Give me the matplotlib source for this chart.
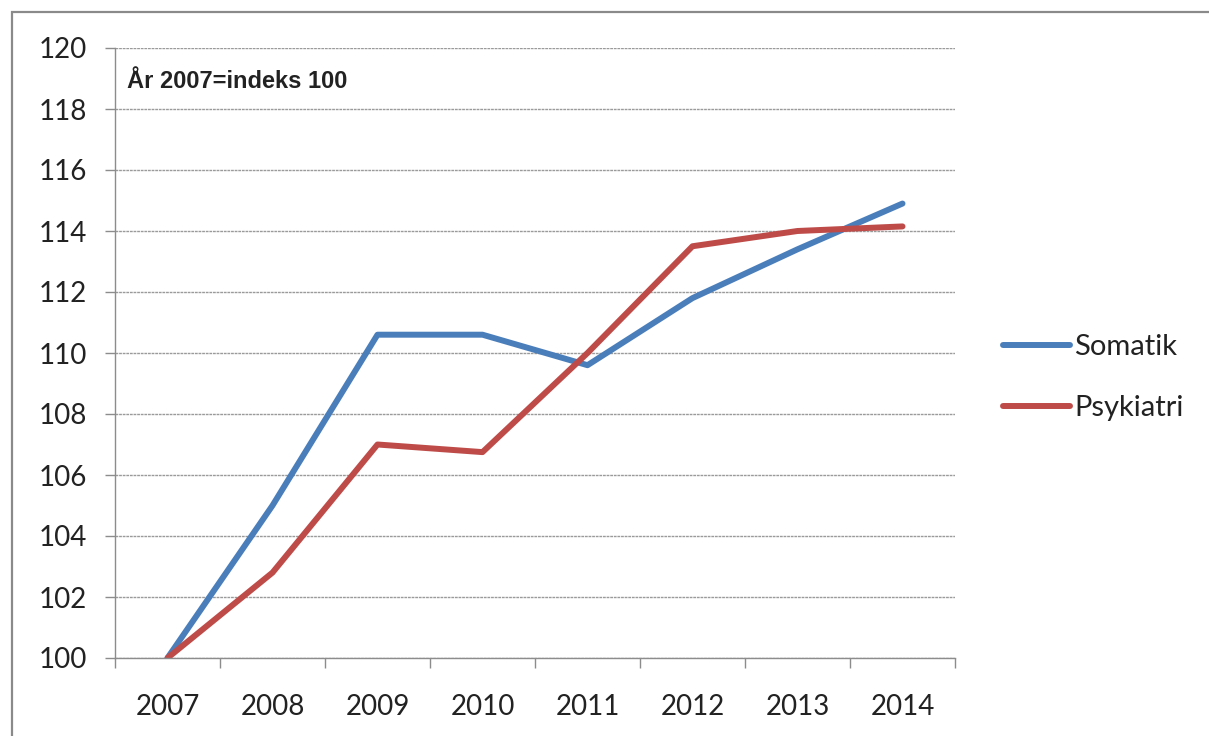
import matplotlib
matplotlib.use("Agg")
import matplotlib.pyplot as plt
from matplotlib.patches import Rectangle
import numpy as np

# data
years = ["2007", "2008", "2009", "2010", "2011", "2012", "2013", "2014"]
somatik = [100.0, 105.0, 110.6, 110.6, 109.6, 111.8, 113.4, 114.9]
psykiatri = [100.0, 102.8, 107.0, 106.75, 110.0, 113.5, 114.0, 114.15]
y_ticks = list(range(100, 121, 2))

blue = "#4a7ebb"
red = "#be4b48"
grid_col = "#8c8c8c"

plt.rcParams["font.family"] = ["Lato", "DejaVu Sans"]

fig = plt.figure(figsize=(12.09, 7.36), dpi=100)
ax = fig.add_axes([115 / 1209, 1 - 658 / 736, 840 / 1209, 610 / 736])

# outer frame (only left and top edges visible)
fig.patches.append(Rectangle((12 / 1209, -0.5), 2.0, 1.5 - 12 / 736,
                             transform=fig.transFigure, fill=False,
                             edgecolor="#8a8a8a", linewidth=1.6))

x = np.arange(len(years))
ax.plot(x, somatik, color=blue, lw=4.3, label="Somatik", solid_capstyle="round")
ax.plot(x, psykiatri, color=red, lw=4.3, label="Psykiatri", solid_capstyle="round")

ax.set_xlim(-0.5, len(years) - 0.5)
ax.set_ylim(100, 120)
ax.set_yticks(y_ticks)
ax.set_yticklabels([str(v) for v in y_ticks])

ax.set_xticks(np.arange(-0.5, len(years)), labels=[""] * (len(years) + 1))
ax.set_xticks(x, labels=years, minor=True)
ax.tick_params(axis="x", which="major", length=7, width=1, color=grid_col, direction="out")
ax.tick_params(axis="x", which="minor", length=0, pad=26, labelsize=20, labelcolor="#222222")
ax.tick_params(axis="y", length=7, width=1, color=grid_col, pad=13, labelsize=20, labelcolor="#222222")

ax.grid(axis="y", color="#9a9a9a", lw=1, linestyle=(0, (2, 0.6)))
ax.set_axisbelow(True)
for s in ["top", "right"]:
    ax.spines[s].set_visible(False)
for s in ["left", "bottom"]:
    ax.spines[s].set_color(grid_col)
    ax.spines[s].set_linewidth(1)

ax.text(127 / 1209, 1 - 81 / 736, "År 2007=indeks 100", transform=fig.transFigure,
        fontsize=17, fontweight="bold", family=["Liberation Sans", "DejaVu Sans"],
        color="#222222", va="center", ha="left")

ax.legend(loc="center left", bbox_to_anchor=(1003 / 1209, 1 - 377.5 / 736),
          bbox_transform=fig.transFigure, frameon=False, fontsize=21,
          handlelength=2.3, handletextpad=0.15, labelspacing=1.2, borderpad=0,
          borderaxespad=0, labelcolor="#222222")

fig.savefig("out.png", dpi=100)
